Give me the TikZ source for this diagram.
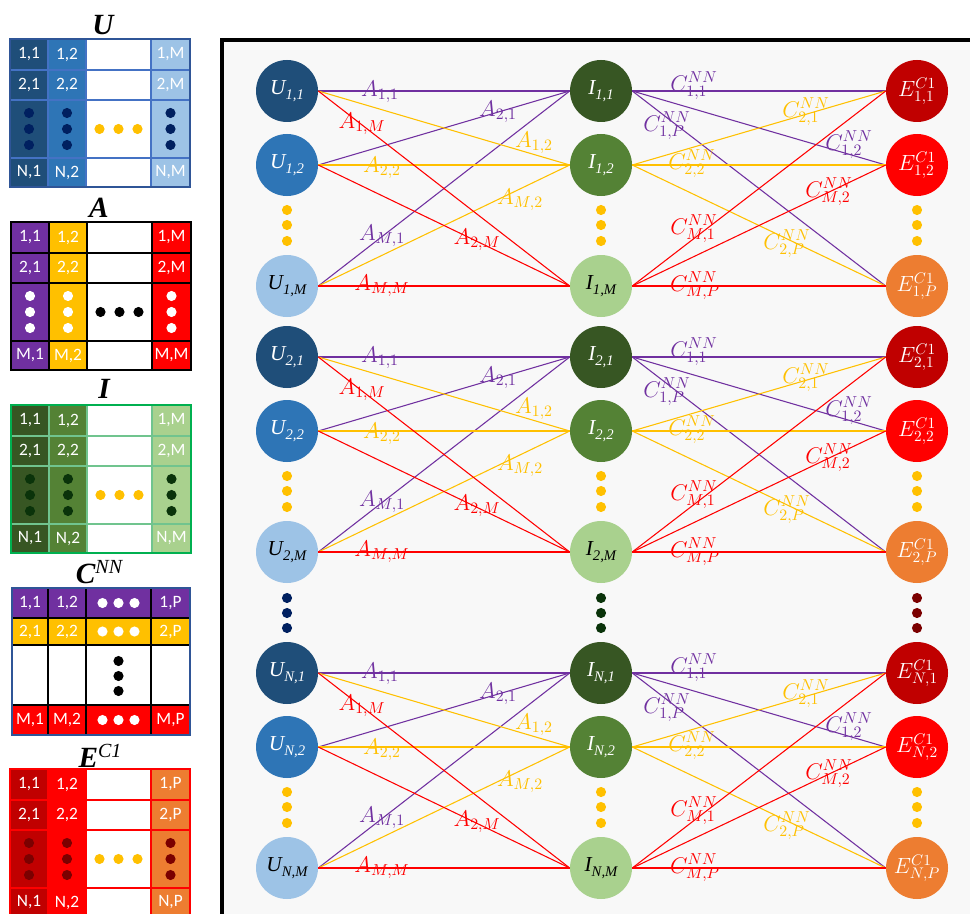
\RequirePackage{fix-cm}
\documentclass[tikz,border=0pt]{standalone}
\usepackage{fontspec}
\setmainfont{Liberation Serif}
\newfontfamily\cellfont{Carlito}
\definecolor{ubA}{HTML}{1F4E79}
\definecolor{ubB}{HTML}{2E75B6}
\definecolor{ubC}{HTML}{9DC3E6}
\definecolor{igA}{HTML}{375623}
\definecolor{igB}{HTML}{548235}
\definecolor{igC}{HTML}{A9D18E}
\definecolor{erA}{HTML}{C00000}
\definecolor{erB}{HTML}{FF0000}
\definecolor{erC}{HTML}{ED7D31}
\definecolor{cp}{HTML}{7030A0}
\definecolor{cy}{HTML}{FFC000}
\definecolor{cr}{HTML}{FF0000}
\definecolor{navy}{HTML}{002060}
\definecolor{dgreen}{HTML}{0A330A}
\definecolor{dred}{HTML}{7B0000}
\definecolor{panel}{HTML}{F8F8F8}
\definecolor{gridblue}{HTML}{4472C4}
\definecolor{bordblue}{HTML}{2F5597}
\definecolor{gridgreen}{HTML}{00B050}
\definecolor{gridlgreen}{HTML}{70C48E}

\tikzset{
  net/.style={circle, minimum size=46.5pt, inner sep=0pt},
  elab/.style={inner sep=0pt, font=\fontsize{17}{17}\selectfont},
  edge/.style={line width=0.8pt},
  cell/.style={text=white, font=\cellfont\fontsize{13}{13}\selectfont, inner sep=0pt},
  ttl/.style={font=\fontsize{22}{22}\selectfont\bfseries\itshape, anchor=base, inner sep=0pt},
}
\newcommand\nl[2]{\fontsize{16}{16}\selectfont\itshape #1\raisebox{-3.5pt}{\fontsize{11}{11}\selectfont #2}}
\newcommand\elbl[1]{\fontsize{16.5}{16.5}\selectfont$E^{C1}_{#1}$}

% #1 c1, #2 c2, #3 c4, #4 grid, #5 border, #6 dot, #7 middot, #8 row letter, #9 col letter
\newcommand\colmat[9]{%
  \fill[#1] (0,0) rectangle (38,148);
  \fill[#2] (38,0) rectangle (76,148);
  \fill[white] (76,0) rectangle (141,148);
  \fill[#3] (141,0) rectangle (180,148);
  \draw[#4, line width=0.8pt] (0,31) -- (180,31) (0,61) -- (180,61) (0,119) -- (180,119)
     (38,0) -- (38,148) (76,0) -- (76,148) (141,0) -- (141,148);
  \draw[#5, line width=1.2pt] (0,0) rectangle (180,148);
  \foreach \rr/\yy in {1/15.5, 2/46}{
    \node[cell] (\mp\rr a) at (19,\yy) {\rr,1};
    \node[cell] (\mp\rr b) at (57,\yy) {\rr,2};
    \node[cell] (\mp\rr c) at (160.5,\yy) {\rr,#9};
  }
  \node[cell] (\mp la) at (19,133.5) {#8,1};
  \node[cell] (\mp lb) at (57,133.5) {#8,2};
  \node[cell] (\mp lc) at (160.5,133.5) {#8,#9};
  \foreach \xx in {19,57,160.5}{
    \foreach \dd in {-16,0,16}{
      \fill[#6] (\xx,{90+\dd}) circle[radius=3.8pt];
    }
  }
  \foreach \dd in {-19,0,19}{
    \fill[#7] ({108.5+\dd},90) circle[radius=3.8pt];
  }
}

\begin{document}
\begin{tikzpicture}[x=0.75pt,y=-0.75pt]
\useasboundingbox (0,0) rectangle (970,913);
\clip (0,0) rectangle (970,913);
\fill[white] (0,0) rectangle (970,913);

% ---------- matrices ----------
\begin{scope}[shift={(10,39)}]
  \def\mp{U}
  \colmat{ubA}{ubB}{ubC}{gridblue}{bordblue}{navy}{cy}{N}{M}
\end{scope}
\node[ttl] (tU) at (103,35) {U};

\begin{scope}[shift={(11,222)}]
  \def\mp{A}
  \colmat{cp}{cy}{cr}{black}{black}{white}{black}{M}{M}
\end{scope}
\node[ttl] (tA) at (99,217) {A};

\begin{scope}[shift={(11,405)}]
  \def\mp{I}
  \colmat{igA}{igB}{igC}{gridlgreen}{gridgreen}{dgreen}{cy}{N}{M}
\end{scope}
\node[ttl] (tI) at (104,398) {I};

\begin{scope}[shift={(12,588)}]
  \fill[cp] (0,0) rectangle (178,30);
  \fill[cy] (0,30) rectangle (178,57);
  \fill[white] (0,57) rectangle (178,117);
  \fill[cr] (0,117) rectangle (178,147);
  \draw[black, line width=0.8pt] (0,30) -- (178,30) (0,57) -- (178,57) (0,117) -- (178,117)
     (36,0) -- (36,147) (74,0) -- (74,147) (139,0) -- (139,147);
  \draw[bordblue, line width=1.2pt] (0,0) rectangle (178,147);
  \foreach \rr/\yy in {1/15, 2/43.5, M/132}{
    \node[cell] (C\rr a) at (18,\yy) {\rr,1};
    \node[cell] (C\rr b) at (55,\yy) {\rr,2};
    \node[cell] (C\rr c) at (158.5,\yy) {\rr,P};
    \foreach \dd in {-16,0,16}{
      \fill[white] ({106.5+\dd},\yy) circle[radius=3.8pt];
    }
  }
  \foreach \dd in {-15,0,15}{
    \fill[black] (106.5,{88+\dd}) circle[radius=3.8pt];
  }
\end{scope}
\node[ttl] (tC) at (99,583) {C\raisebox{7pt}{\fontsize{15}{15}\selectfont\mdseries NN}};

\begin{scope}[shift={(10,769)}]
  \def\mp{E}
  \colmat{erA}{erB}{erC}{cr}{cr}{dred}{cy}{N}{P}
\end{scope}
\node[ttl] (tE) at (100,767) {E\raisebox{7pt}{\fontsize{15}{15}\selectfont\mdseries C1}};

% ---------- panel ----------
\draw[line width=3pt, fill=panel] (222,40) rectangle (1000,1000);

% ---------- network ----------
\foreach \g/\o in {1/0,2/266,N/582}{
  \node[net, fill=ubA, text=white] (U\g a) at (287,{91+\o}) {\nl{U}{\g,1}};
  \node[net, fill=ubB, text=white] (U\g b) at (287,{165+\o}) {\nl{U}{\g,2}};
  \node[net, fill=ubC, text=black] (U\g m) at (287,{286+\o}) {\nl{U}{\g,M}};
  \node[net, fill=igA, text=white] (I\g a) at (601,{91+\o}) {\nl{I}{\g,1}};
  \node[net, fill=igB, text=white] (I\g b) at (601,{165+\o}) {\nl{I}{\g,2}};
  \node[net, fill=igC, text=black] (I\g m) at (601,{286+\o}) {\nl{I}{\g,M}};
  \node[net, fill=erA, text=white] (E\g a) at (917,{91+\o}) {\elbl{\g,1}};
  \node[net, fill=erB, text=white] (E\g b) at (917,{165+\o}) {\elbl{\g,2}};
  \node[net, fill=erC, text=white] (E\g m) at (917,{286+\o}) {\elbl{\g,P}};
  \foreach \xx in {287,601,917}{
    \foreach \dd in {119,134,150}{
      \fill[cy] (\xx,{91+\o+\dd}) circle[radius=3.8pt];
    }
  }
  % U -> I
  \draw[edge, cp] (U\g a.east) -- (I\g a.west);
  \draw[edge, cp] (U\g b.east) -- (I\g a.west);
  \draw[edge, cp] (U\g m.east) -- (I\g a.west);
  \draw[edge, cy] (U\g a.east) -- (I\g b.west);
  \draw[edge, cy] (U\g b.east) -- (I\g b.west);
  \draw[edge, cy] (U\g m.east) -- (I\g b.west);
  \draw[edge, cr] (U\g a.east) -- (I\g m.west);
  \draw[edge, cr] (U\g b.east) -- (I\g m.west);
  \draw[edge, cr] (U\g m.east) -- (I\g m.west);
  % I -> E
  \draw[edge, cp] (I\g a.east) -- (E\g a.west);
  \draw[edge, cp] (I\g a.east) -- (E\g b.west);
  \draw[edge, cp] (I\g a.east) -- (E\g m.west);
  \draw[edge, cy] (I\g b.east) -- (E\g a.west);
  \draw[edge, cy] (I\g b.east) -- (E\g b.west);
  \draw[edge, cy] (I\g b.east) -- (E\g m.west);
  \draw[edge, cr] (I\g m.east) -- (E\g a.west);
  \draw[edge, cr] (I\g m.east) -- (E\g b.west);
  \draw[edge, cr] (I\g m.east) -- (E\g m.west);
  % A labels
  \node[elab, text=cp] (A11\g) at (380,{92+\o}) {$A_{1,1}$};
  \node[elab, text=cp] (A21\g) at (498,{112+\o}) {$A_{2,1}$};
  \node[elab, text=cp] (AM1\g) at (382,{236+\o}) {$A_{M,1}$};
  \node[elab, text=cy] (A12\g) at (534,{143+\o}) {$A_{1,2}$};
  \node[elab, text=cy] (A22\g) at (382,{168+\o}) {$A_{2,2}$};
  \node[elab, text=cy] (AM2\g) at (520,{200+\o}) {$A_{M,2}$};
  \node[elab, text=cr] (A1M\g) at (362,{124+\o}) {$A_{1,M}$};
  \node[elab, text=cr] (A2M\g) at (477,{240+\o}) {$A_{2,M}$};
  \node[elab, text=cr] (AMM\g) at (382,{286+\o}) {$A_{M,M}$};
  % C labels
  \node[elab, text=cp] (C11\g) at (694,{86+\o}) {$C^{NN}_{1,1}$};
  \node[elab, text=cp] (C12\g) at (849,{145+\o}) {$C^{NN}_{1,2}$};
  \node[elab, text=cp] (C1P\g) at (667,{126+\o}) {$C^{NN}_{1,P}$};
  \node[elab, text=cy] (C21\g) at (806,{112+\o}) {$C^{NN}_{2,1}$};
  \node[elab, text=cy] (C22\g) at (692,{164+\o}) {$C^{NN}_{2,2}$};
  \node[elab, text=cy] (C2P\g) at (787,{244+\o}) {$C^{NN}_{2,P}$};
  \node[elab, text=cr] (CM1\g) at (694,{229+\o}) {$C^{NN}_{M,1}$};
  \node[elab, text=cr] (CM2\g) at (829,{192+\o}) {$C^{NN}_{M,2}$};
  \node[elab, text=cr] (CMP\g) at (695,{286+\o}) {$C^{NN}_{M,P}$};
}
% dots between groups
\foreach \yy in {598,613,628}{
  \fill[navy] (287,\yy) circle[radius=3.8pt];
  \fill[dgreen] (601,\yy) circle[radius=3.8pt];
  \fill[dred] (917,\yy) circle[radius=3.8pt];
}
\end{tikzpicture}
\end{document}
